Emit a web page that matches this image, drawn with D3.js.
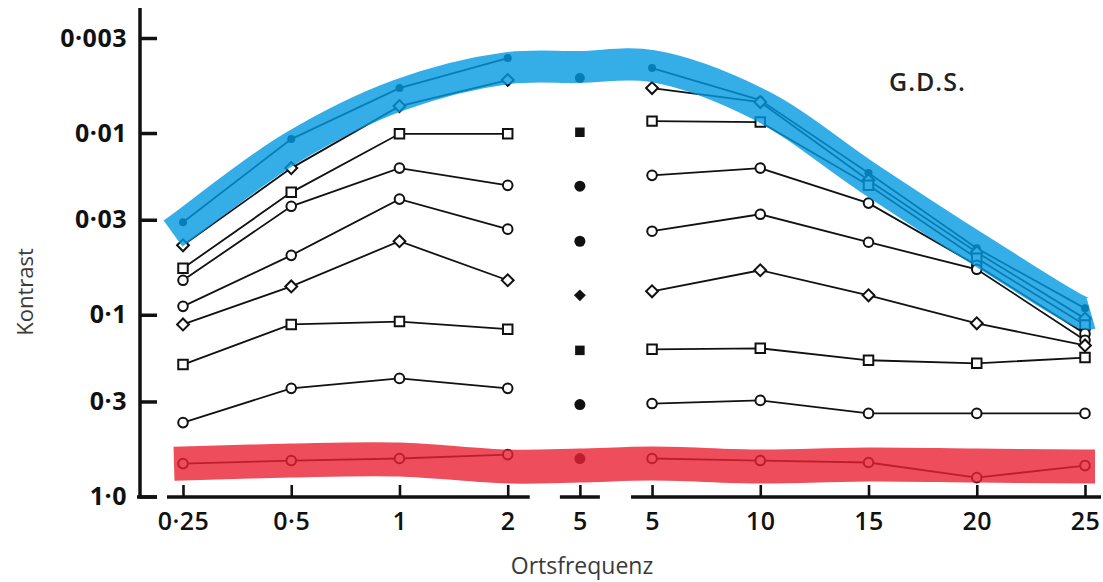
<!DOCTYPE html>
<html>
<head>
<meta charset="utf-8">
<script src="https://cdn.jsdelivr.net/npm/d3@7"></script>
<style>
  html, body { margin: 0; padding: 0; background: #fff; }
  svg { display: block; }
</style>
</head>
<body>
<svg id="chart" width="1103" height="582"></svg>
<script>
// ---------------- DATA ----------------
const freqLabels = ["0·25", "0·5", "1", "2", "5", "5", "10", "15", "20", "25"];
const panels     = ["L", "L", "L", "L", "M", "R", "R", "R", "R", "R"];
const yTickValues = [0.003, 0.01, 0.03, 0.1, 0.3, 1];
const yTickLabels = ["0·003", "0·01", "0·03", "0·1", "0·3", "1·0"];

// contrast thresholds per condition (null = not shown)
const seriesBlue = [0.031, 0.0108, 0.00566, 0.00387, 0.00498, 0.00439, 0.00659, 0.0166, 0.0431, 0.0922];
const diamond1   = [0.0415, 0.0156, 0.00711, 0.00511, null, 0.00566, 0.00676, 0.0182, 0.0453, 0.105];
const square1    = [0.0555, 0.0212, 0.0101, 0.0101, 0.0099, 0.0086, 0.0087, 0.0194, 0.0489, 0.114];
const circle1    = [0.0646, 0.0253, 0.0156, 0.0194, 0.0196, 0.0171, 0.0156, 0.0243, 0.0534, 0.127];
const circle2    = [0.0899, 0.0471, 0.0231, 0.0338, 0.0394, 0.0347, 0.028, 0.0399, 0.0562, 0.138];
const diamond2   = [0.113, 0.0698, 0.0394, 0.0646, 0.0782, 0.0743, 0.0569, 0.0782, 0.1115, 0.1475];
const square2    = [0.188, 0.113, 0.109, 0.120, 0.157, 0.155, 0.153, 0.178, 0.185, 0.172];
const circle3    = [0.392, 0.254, 0.224, 0.254, 0.312, 0.308, 0.296, 0.349, 0.349, 0.349];
const seriesRed  = [0.659, 0.634, 0.618, 0.588, 0.618, 0.618, 0.634, 0.650, 0.787, 0.676];

// centre lines of the two highlight bands
const blueBand = [0.0326, 0.0121, 0.00618, 0.00439, 0.00433, 0.00428, 0.00702, 0.0177, 0.0431, 0.0983];
const redBand  = [0.659, 0.634, 0.626, 0.684, 0.676, 0.659, 0.684, 0.667, 0.676, 0.684];

const seriesValues = [seriesBlue, diamond1, square1, circle1, circle2, diamond2, square2, circle3, seriesRed];
const seriesShapes = ["dot", "diamond", "square", "circle", "circle", "diamond", "square", "circle", "circle"];

// ---------------- LAYOUT ----------------
const svg = d3.select("#chart");
const font = "'Open Sans', 'Noto Sans', sans-serif";

// slot position along x: left panel, single middle column, right panel
const slot = i => i <= 3 ? i : (i === 4 ? 3 + 2 / 3 : i - 2 / 3);
const x = d3.scaleLinear().domain([0, slot(9)]).range([183, 1085]);
const y = d3.scaleLog().domain([0.003, 1]).range([38, 496.5]);
const px = i => x(slot(i));

const gSeries = svg.append("g");

const line = d3.line()
  .defined(d => d.v != null)
  .x(d => px(d.i))
  .y(d => y(d.v));

const diamondPath = d3.symbol().type(d3.symbolSquare).size(70)();
const squarePath = d3.symbol().type(d3.symbolSquare).size(90)();

seriesValues.forEach((vals, s) => {
  const shape = seriesShapes[s];
  const pts = vals.map((v, i) => ({ v, i }));
  ["L", "R"].forEach(p => {
    const seg = pts.filter(d => panels[d.i] === p && d.v != null);
    gSeries.append("path")
      .attr("d", line(seg))
      .attr("fill", "none")
      .attr("stroke", "#111")
      .attr("stroke-width", 1.8);
  });
  pts.filter(d => d.v != null).forEach(d => {
    const mid = panels[d.i] === "M";
    const cx = px(d.i), cy = y(d.v);
    const fill = (mid || shape === "dot") ? "#111" : "#fff";
    const sw = (mid || shape === "dot") ? 0 : 2;
    if (shape === "dot") {
      gSeries.append("circle").attr("cx", cx).attr("cy", cy).attr("r", mid ? 5 : 4)
        .attr("fill", fill);
    } else if (shape === "circle") {
      gSeries.append("circle").attr("cx", cx).attr("cy", cy).attr("r", mid ? 5.5 : 4.8)
        .attr("fill", fill).attr("stroke", "#111").attr("stroke-width", sw);
    } else if (shape === "square") {
      gSeries.append("path").attr("d", squarePath)
        .attr("transform", `translate(${cx},${cy})`)
        .attr("fill", fill).attr("stroke", "#111").attr("stroke-width", sw);
    } else {
      gSeries.append("path").attr("d", diamondPath)
        .attr("transform", `translate(${cx},${cy}) rotate(45)`)
        .attr("fill", fill).attr("stroke", "#111").attr("stroke-width", sw);
    }
  });
});

// ---------------- HIGHLIGHT BANDS ----------------
const bandLine = d3.line().curve(d3.curveCatmullRom.alpha(0.5)).x(d => d[0]).y(d => d[1]);
function bandPoints(vals, padL, padR) {
  const p = vals.map((v, i) => [px(i), y(v)]);
  p.unshift([p[0][0] - padL, p[0][1] - (p[1][1] - p[0][1]) * padL / (p[1][0] - p[0][0])]);
  p.push([p[p.length - 1][0] + padR, p[p.length - 1][1]]);
  return p;
}
svg.append("path")
  .attr("d", bandLine(bandPoints(blueBand, 10, 6)))
  .attr("fill", "none")
  .attr("stroke", "rgb(2,154,226)")
  .attr("stroke-opacity", 0.8)
  .attr("stroke-width", 32)
  .attr("stroke-linejoin", "round");
svg.append("path")
  .attr("d", bandLine(bandPoints(redBand, 9, 10)))
  .attr("fill", "none")
  .attr("stroke", "rgb(234,34,51)")
  .attr("stroke-opacity", 0.8)
  .attr("stroke-width", 34)
  .attr("stroke-linejoin", "round");

// ---------------- AXES ----------------
const yAxis = d3.axisLeft(y)
  .tickValues(yTickValues)
  .tickFormat((d, i) => yTickLabels[i])
  .tickSizeInner(-17).tickSizeOuter(0).tickPadding(13);
const gy = svg.append("g").attr("transform", "translate(140,0)").call(yAxis);
gy.select(".domain").remove();
gy.selectAll(".tick line").attr("stroke", "#111").attr("stroke-width", 3.5);
gy.selectAll(".tick text")
  .attr("fill", "#111")
  .style("font-family", font).style("font-size", "25px").style("font-weight", 700)
  .style("letter-spacing", "0.5px");
svg.append("line").attr("x1", 140).attr("x2", 140).attr("y1", 8).attr("y2", 498.5)
  .attr("stroke", "#111").attr("stroke-width", 3.5);
svg.append("line").attr("x1", 137).attr("x2", 157).attr("y1", 497).attr("y2", 497)
  .attr("stroke", "#111").attr("stroke-width", 3.5);

const xAxis = d3.axisBottom(x)
  .tickValues(freqLabels.map((_, i) => slot(i)))
  .tickFormat((d, i) => freqLabels[i])
  .tickSizeInner(-12).tickSizeOuter(0).tickPadding(15);
const gx = svg.append("g").attr("transform", "translate(0,497)").call(xAxis);
gx.select(".domain").remove();
gx.selectAll(".tick line").attr("stroke", "#111").attr("stroke-width", 2.6);
gx.selectAll(".tick text")
  .attr("fill", "#111")
  .style("font-family", font).style("font-size", "25px").style("font-weight", 600)
  .style("letter-spacing", "0.5px");

// broken baseline segments
const segs = [[px(0) - 16, px(3) + 22], [px(4) - 20, px(4) + 20], [px(5) - 21, px(9) + 16]];
segs.forEach(s => {
  svg.append("line").attr("x1", s[0]).attr("x2", s[1]).attr("y1", 497).attr("y2", 497)
    .attr("stroke", "#111").attr("stroke-width", 3.5);
});

// ---------------- TEXT ----------------
svg.append("text")
  .attr("x", 582).attr("y", 574)
  .attr("text-anchor", "middle")
  .attr("fill", "#3a3a3a")
  .style("font-family", font).style("font-size", "23px")
  .text("Ortsfrequenz");

svg.append("text")
  .attr("transform", "translate(33,292) rotate(-90)")
  .attr("text-anchor", "middle")
  .attr("fill", "#3a3a3a")
  .style("font-family", font).style("font-size", "22px")
  .text("Kontrast");

svg.append("text")
  .attr("x", 889).attr("y", 91)
  .attr("fill", "#222")
  .style("font-family", font).style("font-size", "25px").style("font-weight", 600)
  .style("letter-spacing", "1px")
  .text("G.D.S.");
</script>
</body>
</html>
